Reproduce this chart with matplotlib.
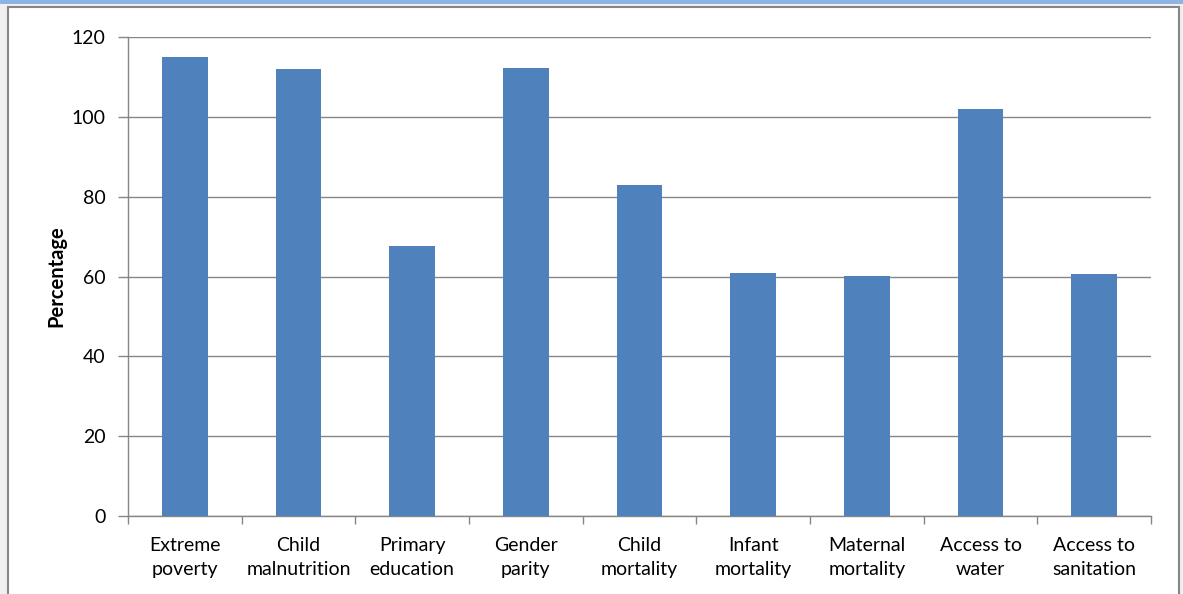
import matplotlib
matplotlib.use("Agg")
import matplotlib.pyplot as plt
from matplotlib.patches import Rectangle

categories = ["Extreme\npoverty", "Child\nmalnutrition", "Primary\neducation", "Gender\nparity",
              "Child\nmortality", "Infant\nmortality", "Maternal\nmortality", "Access to\nwater",
              "Access to\nsanitation"]
values = [115.0, 112.0, 67.7, 112.3, 82.8, 61.0, 60.1, 102.0, 60.6]
yticks = [0, 20, 40, 60, 80, 100, 120]

W, H = 1183, 594
fig = plt.figure(figsize=(W / 100, H / 100), dpi=100)
plt.rcParams['font.family'] = ['Lato', 'DejaVu Sans']

# background decorations
fig.patches.append(Rectangle((0, 0), 1, 1, transform=fig.transFigure, facecolor='#F0F0F0', edgecolor='none', zorder=-3))
fig.patches.append(Rectangle((8 / W, -0.05), (1179 - 8) / W, (594 - 7) / H + 0.05, transform=fig.transFigure,
                             facecolor='white', edgecolor='#868686', linewidth=1.5, zorder=-2))
fig.patches.append(Rectangle((0, (594 - 4) / H), 1, 4 / H, transform=fig.transFigure,
                             facecolor='#8DB4E2', edgecolor='none', zorder=-1))

left, right, top, bottom = 128, 1151, 37, 516
ax = fig.add_axes([left / W, 1 - bottom / H, (right - left) / W, (bottom - top) / H])
ax.set_facecolor('none')

x = list(range(len(categories)))
ax.bar(x, values, width=0.4, color='#4F81BD', zorder=3)
ax.set_xlim(-0.5, len(categories) - 0.5)
ax.set_ylim(0, 120)
ax.set_yticks(yticks)
ax.set_yticklabels([str(t) for t in yticks], fontsize=14)
ax.set_xticks(x)
ax.set_xticklabels(categories, fontsize=14, linespacing=1.5)
ax.tick_params(axis='x', length=0, pad=15)
ax.set_xticks([i - 0.5 for i in range(len(categories) + 1)], minor=True)
ax.tick_params(axis='x', which='minor', length=6, color='#868686', width=1)
ax.tick_params(axis='y', length=7, color='#868686', width=1, pad=9)
ax.yaxis.grid(True, color='#868686', linewidth=1, zorder=0)
for s in ['top', 'right']:
    ax.spines[s].set_visible(False)
for s in ['left', 'bottom']:
    ax.spines[s].set_color('#868686')
    ax.spines[s].set_linewidth(1)
ax.set_ylabel("Percentage", fontsize=14.5, fontweight='bold')
ax.yaxis.set_label_coords((66 - left) / (right - left), 0.5)

fig.savefig("out.png", dpi=100)
